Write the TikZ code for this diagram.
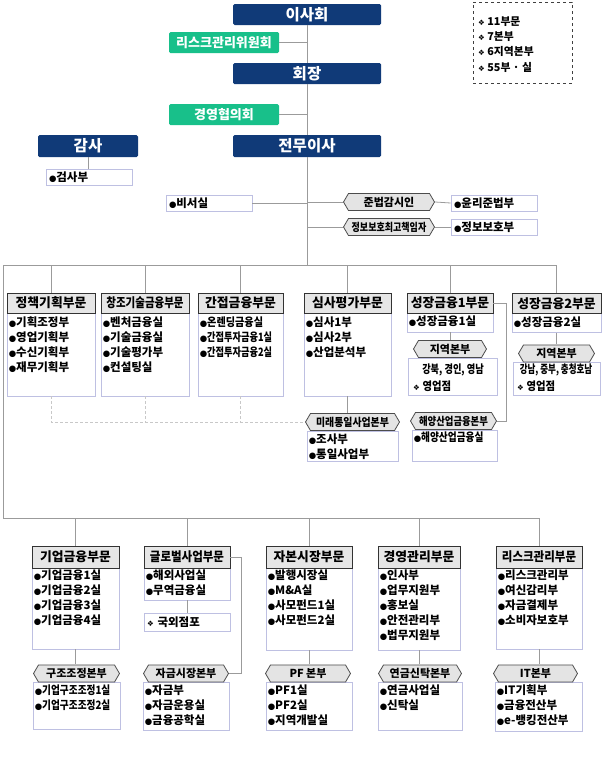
\documentclass[tikz,border=0pt]{standalone}
\usepackage{fontspec}
\usepackage{graphicx}
\setmainfont{Noto Sans CJK KR}
\newfontfamily\symf{DejaVu Sans}
\definecolor{navy}{RGB}{16,58,120}
\definecolor{grn}{RGB}{24,192,138}
\definecolor{hdrfill}{RGB}{230,230,230}
\definecolor{lav}{RGB}{190,192,226}
\definecolor{hexfill}{RGB}{228,228,228}
\definecolor{lnc}{RGB}{155,155,155}
\definecolor{dsh}{RGB}{200,200,200}
\newcommand{\bl}{{\symf\fontsize{8.5}{8.5}\selectfont ●}}
\newcommand{\dm}{{\symf\fontsize{7.5}{7.5}\selectfont ❖}}
\newcommand{\sq}[2]{\scalebox{#1}[1]{#2}}
\newcommand{\st}{\rule{0pt}{10.5pt}}
\tikzset{
 topbox/.style={fill=navy, text=white, rounded corners=1.5pt, minimum width=148pt, minimum height=21pt, inner sep=0pt, font=\fontsize{15.5}{15.5}\selectfont\bfseries},
 grnbox/.style={fill=grn, text=white, rounded corners=1.5pt, minimum width=110pt, minimum height=21pt, inner sep=0pt, font=\fontsize{13}{13}\selectfont\bfseries},
 hdr/.style={draw=black!80, line width=0.8pt, fill=hdrfill, minimum height=20pt, inner sep=0pt, font=\fontsize{12.8}{12.8}\selectfont\bfseries},
 body/.style={draw=lav, line width=0.8pt, fill=white, inner sep=0pt},
 itemf/.style={inner sep=0pt, font=\fontsize{11.5}{15}\selectfont\bfseries},
 items/.style={itemf, anchor=north west, align=left},
 sbox/.style={draw=lav, line width=0.8pt, fill=white, inner xsep=3pt, inner ysep=0pt, minimum height=16pt, align=left, font=\fontsize{11.5}{12}\selectfont\bfseries},
 hexn/.style={inner sep=0pt, minimum height=18pt, font=\fontsize{11}{11}\selectfont\bfseries,
   path picture={
     \path[fill=hexfill, draw=black!70, line width=0.8pt]
       ([xshift=0.5pt]path picture bounding box.west)
       -- ([xshift=5.5pt,yshift=-0.45pt]path picture bounding box.north west)
       -- ([xshift=-5.5pt,yshift=-0.45pt]path picture bounding box.north east)
       -- ([xshift=-0.5pt]path picture bounding box.east)
       -- ([xshift=-5.5pt,yshift=0.45pt]path picture bounding box.south east)
       -- ([xshift=5.5pt,yshift=0.45pt]path picture bounding box.south west) -- cycle;
   }},
 conn/.style={draw=lnc, line width=0.8pt},
 dconn/.style={draw=dsh, line width=0.8pt, dash pattern=on 3pt off 2pt},
}
\begin{document}
\begin{tikzpicture}[x=1pt,y=-1pt]
\useasboundingbox (0,0) rectangle (605,758);

% ---- top level ----
\node[topbox] (ish) at (307,14.5) {이사회};
\node[grnbox] (risk) at (224,42.5) {리스크관리위원회};
\node[topbox] (hoejang) at (307,73.5) {회장};
\node[grnbox] (gyeong) at (224,114.5) {경영협의회};
\node[topbox, minimum width=100pt, minimum height=22pt] (gamsa) at (88,146) {감사};
\node[topbox, minimum height=22pt] (jeonmu) at (307,146) {전무이사};
\node[sbox, text width=80pt] (geomsa) at (89,177.5) {\bl 검사부};

\coordinate (tl) at (3,265);
\coordinate (trunk) at (307,265);
\coordinate (bl) at (3,518);

\draw[conn] (ish.south) -- (hoejang.north);
\draw[conn] (hoejang.south) -- (jeonmu.north);
\draw[conn] (jeonmu.south) -- (trunk);
\draw[conn] (risk.east) -- (risk.east -| ish.south);
\draw[conn] (gyeong.east) -- (gyeong.east -| ish.south);
\draw[conn] (gamsa.south) -- (gamsa.south |- geomsa.north);

% legend
\node[draw=black!75, dashed, line width=0.7pt, minimum width=99pt, minimum height=81pt, inner sep=0pt] (legend) at (522.5,42.5) {};
\node[items, font=\fontsize{10.8}{15.3}\selectfont\bfseries] (legtxt) at (478,14.5) {\st\dm\ 11부문\\ \dm\ 7본부\\ \dm\ 6지역본부\\ \dm\ 55부 · 실};

% staff units
\node[sbox, text width=80pt] (biseo) at (209,203) {\bl 비서실};
\node[hexn, minimum width=92pt] (jun) at (389,202) {준법감시인};
\node[sbox, text width=80pt] (yulli) at (494,203) {\bl 윤리준법부};
\node[hexn, minimum width=92pt] (jeongbo) at (389,227) {\sq{0.82}{정보보호최고책임자}};
\node[sbox, text width=80pt] (jbb) at (494,227) {\bl 정보보호부};
\draw[conn] (biseo.east) -- (biseo.east -| trunk);
\draw[conn] (jun.west -| trunk) -- (jun.west);
\draw[conn] (jun.east) -- (yulli.west);
\draw[conn] (jeongbo.west -| trunk) -- (jeongbo.west);
\draw[conn] (jeongbo.east) -- (jbb.west);

% ---- row 1 ----
\node[body, minimum width=88pt, minimum height=83pt] (b1) at (51,354.5) {};
\node[body, minimum width=88pt, minimum height=83pt] (b2) at (145,354.5) {};
\node[body, minimum width=85pt, minimum height=83pt] (b3) at (240.5,354.5) {};
\node[body, minimum width=87pt, minimum height=83pt] (b4) at (347.5,354.5) {};
\node[body, minimum width=86pt, minimum height=19pt] (b5) at (450,322.5) {};
\node[body, minimum width=89pt, minimum height=19pt] (b6) at (556.5,323) {};

\node[hdr, minimum width=88pt] (h1) at (51,303) {정책기획부문};
\node[hdr, minimum width=88pt] (h2) at (145,303) {\sq{0.82}{창조기술금융부문}};
\node[hdr, minimum width=85pt] (h3) at (240.5,303) {간접금융부문};
\node[hdr, minimum width=87pt] (h4) at (347.5,303) {심사평가부문};
\node[hdr, minimum width=86pt] (h5) at (450,303) {성장금융1부문};
\node[hdr, minimum width=89pt] (h6) at (556.5,303.5) {성장금융2부문};

\draw[conn] (tl) -- (h6.north |- tl);
\foreach \n in {h1,h2,h3,h4,h5,h6} \draw[conn] (\n.north |- tl) -- (\n.north);
\draw[conn] (tl) -- (bl);

\node[items] (i1) at ([xshift=2pt,yshift=-3.5pt]b1.north west) {\st\bl 기획조정부\\ \bl 영업기획부\\ \bl 수신기획부\\ \bl 재무기획부};
\node[items] (i2) at ([xshift=2pt,yshift=-3.5pt]b2.north west) {\st\bl 벤처금융실\\ \bl 기술금융실\\ \bl 기술평가부\\ \bl 컨설팅실};
\node[items] (i3) at ([xshift=2pt,yshift=-3.5pt]b3.north west) {\st\bl \sq{0.88}{온렌딩금융실}\\ \bl \sq{0.8}{간접투자금융1실}\\ \bl \sq{0.8}{간접투자금융2실}};
\node[items] (i4) at ([xshift=2pt,yshift=-3.5pt]b4.north west) {\st\bl 심사1부\\ \bl 심사2부\\ \bl 산업분석부};
\node[items] (i5) at ([xshift=2pt,yshift=-2.5pt]b5.north west) {\st\bl 성장금융1실};
\node[items] (i6) at ([xshift=2pt,yshift=-2.5pt]b6.north west) {\st\bl 성장금융2실};

% regional HQs
\node[body, minimum width=89pt, minimum height=37pt] (jb1) at (452.5,376.5) {};
\node[hexn, minimum width=74pt] (jy1) at (450,349) {지역본부};
\node[itemf] (jt1) at (453,370) {\sq{0.8}{강북, 경인, 영남}};
\node[itemf, anchor=west] (jt1b) at (413,386) {\dm\ \sq{0.9}{영업점}};
\draw[conn] (b5.south) -- (jy1.north);

\node[body, minimum width=87pt, minimum height=33pt] (jb2) at (556.5,378.5) {};
\node[hexn, minimum width=77pt] (jy2) at (556.5,353.5) {지역본부};
\node[itemf] (jt2) at (556,370) {\sq{0.74}{강남, 중부, 충청호남}};
\node[itemf, anchor=west] (jt2b) at (517,386) {\dm\ \sq{0.9}{영업점}};
\draw[conn] (b6.south) -- (jy2.north);

% mirae / haeyang
\node[body, minimum width=91pt, minimum height=30pt] (mb) at (352.5,446) {};
\node[hexn, minimum width=95pt] (mirae) at (352.5,422) {\sq{0.9}{미래통일사업본부}};
\node[items] (mi) at ([xshift=2pt,yshift=-2pt]mb.north west) {\st\bl 조사부\\ \bl 통일사업부};
\draw[conn] (b4.south) -- (b4.south |- mirae.north);

\node[body, minimum width=85pt, minimum height=31pt] (hb) at (454.5,445.5) {};
\node[hexn, minimum width=87pt] (haeyang) at (453.5,421) {\sq{0.85}{해양산업금융본부}};
\node[items] (hi) at ([xshift=2pt,yshift=-1.5pt]hb.north west) {\st\bl \sq{0.84}{해양산업금융실}};
\draw[conn] (h5.east) -- ++(13,0) |- (haeyang.east);

\draw[dconn] (b1.south) -- (b1.south |- mirae.west) -- (mirae.west);
\draw[dconn] (b2.south) -- (b2.south |- mirae.west);
\draw[dconn] (b3.south) -- (b3.south |- mirae.west);

% ---- row 2 ----
\node[body, minimum width=87pt, minimum height=81pt] (c1) at (75.5,608.5) {};
\node[body, minimum width=86pt, minimum height=32pt] (c2) at (187,584) {};
\node[body, minimum width=86pt, minimum height=82pt] (c3) at (309,609) {};
\node[body, minimum width=82pt, minimum height=82pt] (c4) at (419,609) {};
\node[body, minimum width=86pt, minimum height=81pt] (c5) at (539,608.5) {};

\node[hdr, minimum width=87pt, minimum height=22pt] (g1) at (75.5,557) {기업금융부문};
\node[hdr, minimum width=86pt, minimum height=22pt] (g2) at (187,557) {\sq{0.9}{글로벌사업부문}};
\node[hdr, minimum width=86pt, minimum height=22pt] (g3) at (309,557) {자본시장부문};
\node[hdr, minimum width=82pt, minimum height=22pt] (g4) at (419,557) {경영관리부문};
\node[hdr, minimum width=86pt, minimum height=22pt] (g5) at (539,557) {\sq{0.9}{리스크관리부문}};

\draw[conn] (bl) -- (g5.north |- bl);
\foreach \n in {g1,g2,g3,g4,g5} \draw[conn] (\n.north |- bl) -- (\n.north);

\node[items] (k1) at ([xshift=2pt,yshift=-1.5pt]c1.north west) {\st\bl 기업금융1실\\ \bl 기업금융2실\\ \bl 기업금융3실\\ \bl 기업금융4실};
\node[items] (k2) at ([xshift=2pt,yshift=-1.5pt]c2.north west) {\st\bl 해외사업실\\ \bl 무역금융실};
\node[items] (k3) at ([xshift=2pt,yshift=-1.5pt]c3.north west) {\st\bl 발행시장실\\ \bl M\&A실\\ \bl 사모펀드1실\\ \bl 사모펀드2실};
\node[items] (k4) at ([xshift=2pt,yshift=-1.5pt]c4.north west) {\st\bl 인사부\\ \bl 업무지원부\\ \bl 홍보실\\ \bl 안전관리부\\ \bl 법무지원부};
\node[items] (k5) at ([xshift=2pt,yshift=-1.5pt]c5.north west) {\st\bl 리스크관리부\\ \bl 여신감리부\\ \bl 자금결제부\\ \bl 소비자보호부};

\node[sbox, text width=80pt, minimum height=18pt] (gukoe) at (187,622) {\dm\ 국외점포};
\draw[conn] (c2.south) -- (gukoe.north);

% row 2 HQs
\node[body, minimum width=87pt, minimum height=47pt] (e1) at (76.5,706) {};
\node[body, minimum width=86pt, minimum height=48pt] (e2) at (186,706.5) {};
\node[body, minimum width=86pt, minimum height=48pt] (e3) at (309,706.5) {};
\node[body, minimum width=84pt, minimum height=48pt] (e4) at (420,706.5) {};
\node[body, minimum width=87pt, minimum height=49pt] (e5) at (538.5,707) {};

\node[hexn, minimum width=87pt] (d1) at (76.5,673.5) {구조조정본부};
\node[hexn, minimum width=86pt] (d2) at (186,673.5) {자금시장본부};
\node[hexn, minimum width=86pt] (d3) at (308,673.5) {PF 본부};
\node[hexn, minimum width=84pt] (d4) at (420,673.5) {연금신탁본부};
\node[hexn, minimum width=85pt] (d5) at (535.5,673.5) {IT본부};

\node[items] (m1) at ([xshift=2pt,yshift=-2pt]e1.north west) {\st\bl \sq{0.84}{기업구조조정1실}\\ \bl \sq{0.84}{기업구조조정2실}};
\node[items] (m2) at ([xshift=2pt,yshift=-2pt]e2.north west) {\st\bl 자금부\\ \bl 자금운용실\\ \bl 금융공학실};
\node[items] (m3) at ([xshift=2pt,yshift=-2pt]e3.north west) {\st\bl PF1실\\ \bl PF2실\\ \bl 지역개발실};
\node[items] (m4) at ([xshift=2pt,yshift=-2pt]e4.north west) {\st\bl 연금사업실\\ \bl 신탁실};
\node[items] (m5) at ([xshift=2pt,yshift=-2pt]e5.north west) {\st\bl IT기획부\\ \bl 금융전산부\\ \bl e-뱅킹전산부};

\draw[conn] (c1.south) -- (c1.south |- d1.north);
\draw[conn] (c3.south) -- (c3.south |- d3.north);
\draw[conn] (c4.south) -- (c4.south |- d4.north);
\draw[conn] (c5.south) -- (c5.south |- d5.north);
\draw[conn] (g2.east) -- ++(11,0) |- (d2.east);

\end{tikzpicture}
\end{document}
